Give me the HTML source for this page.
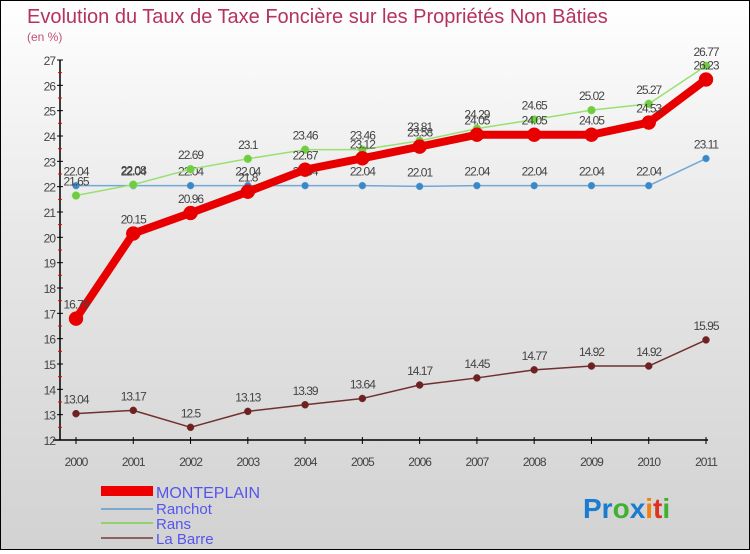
<!DOCTYPE html>
<html><head><meta charset="utf-8"><style>
html,body{margin:0;padding:0}
body{width:750px;height:550px;overflow:hidden;font-family:"Liberation Sans",sans-serif}
#wrap{position:relative;width:748px;height:548px;border:1px solid #000;background:linear-gradient(#ffffff,#e6e6e6 45%,#d2d2d2)}
svg text{font-family:"Liberation Sans",sans-serif}
</style></head><body>
<div id="wrap">
<svg id="chart" width="748" height="548">
<text x="26" y="22" font-size="20" fill="#b5325f">Evolution du Taux de Taxe Foncière sur les Propriétés Non Bâties</text>
<text x="26" y="40" font-size="12" fill="#c0507a">(en %)</text>
<g id="axes"></g><g id="series"></g>
<g>
<rect x="100" y="485" width="52" height="10" fill="#e00"/>
<text x="155" y="497" font-size="16" fill="#5555ee">MONTEPLAIN</text>
<line x1="100" y1="508" x2="152" y2="508" stroke="#7aaad0" stroke-width="2"/>
<text x="155" y="513" font-size="15" fill="#5555ee">Ranchot</text>
<line x1="100" y1="522" x2="152" y2="522" stroke="#90d070" stroke-width="2"/>
<text x="155" y="528" font-size="15" fill="#5555ee">Rans</text>
<line x1="100" y1="537" x2="152" y2="537" stroke="#906060" stroke-width="2"/>
<text x="155" y="543" font-size="15" fill="#5555ee">La Barre</text>
</g>
<text x="582" y="517" font-size="28" font-weight="bold"><tspan fill="#1a7bd0">Pr</tspan><tspan fill="#40b030">o</tspan><tspan fill="#1a7bd0">x</tspan><tspan fill="#f08010">i</tspan><tspan fill="#e03020">t</tspan><tspan fill="#40b030">i</tspan></text>
</svg></div>
<script>
const years=[2000,2001,2002,2003,2004,2005,2006,2007,2008,2009,2010,2011];
const yTicks=[12,13,14,15,16,17,18,19,20,21,22,23,24,25,26,27];
const monteplain=[16.79,20.15,20.96,21.8,22.67,23.12,23.58,24.05,24.05,24.05,24.53,26.23];
const ranchot=[22.04,22.04,22.04,22.04,22.04,22.04,22.01,22.04,22.04,22.04,22.04,23.11];
const rans=[21.65,22.08,22.69,23.1,23.46,23.46,23.81,24.29,24.65,25.02,25.27,26.77];
const laBarre=[13.04,13.17,12.5,13.13,13.39,13.64,14.17,14.45,14.77,14.92,14.92,15.95];
const NS="http://www.w3.org/2000/svg";
const X=i=>75+i*(630/11);
const Y=v=>439-(v-12)*(380/15);
function mk(t,a,p){const e=document.createElementNS(NS,t);for(const k in a)e.setAttribute(k,a[k]);p.appendChild(e);return e;}
const ax=document.getElementById('axes'),sg=document.getElementById('series');
let e=mk('line',{x1:59,y1:Y(27),x2:59,y2:439,stroke:'#000','stroke-width':1.5},ax);

e=mk('line',{x1:52,y1:439,x2:707,y2:439,stroke:'#000','stroke-width':1.5},ax);

yTicks.forEach(v=>{
 mk('line',{x1:56,y1:Y(v),x2:62,y2:Y(v),stroke:'#000'},ax);
 if(v<27)mk('line',{x1:57,y1:Y(v+0.5),x2:61,y2:Y(v+0.5),stroke:'#e00'},ax);
 const t=mk('text',{x:54,y:Y(v)+5,'font-size':12,fill:'#444','text-anchor':'end','letter-spacing':'-1'},ax);
 t.textContent=v;
 
});
years.forEach((y,i)=>{
 mk('line',{x1:X(i),y1:436,x2:X(i),y2:443,stroke:'#000'},ax);
 const t=mk('text',{x:X(i),y:465,'font-size':12,fill:'#444','text-anchor':'middle','letter-spacing':'-1'},ax);
 t.textContent=y;
 
});
function series(name,vals,col,w,r,dot){
 const g=mk('g',{},sg);
 
 const l=mk('polyline',{points:vals.map((v,i)=>X(i)+','+Y(v)).join(' '),fill:'none',stroke:col,'stroke-width':w,'stroke-linejoin':'round'},g);
 
 vals.forEach((v,i)=>{
  const c=mk('circle',{cx:X(i),cy:Y(v),r:r,fill:dot,stroke:col,'stroke-width':0.5},g);
  
  const t=mk('text',{x:X(i),y:Y(v)-10,'font-size':12,fill:'#444','text-anchor':'middle','letter-spacing':'-1'},g);
  t.textContent=String(v);
  
 });
}
series('la-barre',laBarre,'#703030',1.5,3.5,'#702020');
series('ranchot',ranchot,'#70a8d8',1.5,3.5,'#3a88c8');
series('rans',rans,'#98e070',1.5,4,'#70cc40');
series('monteplain',monteplain,'#e80000',8,7,'#e80000');
</script>
</body></html>
